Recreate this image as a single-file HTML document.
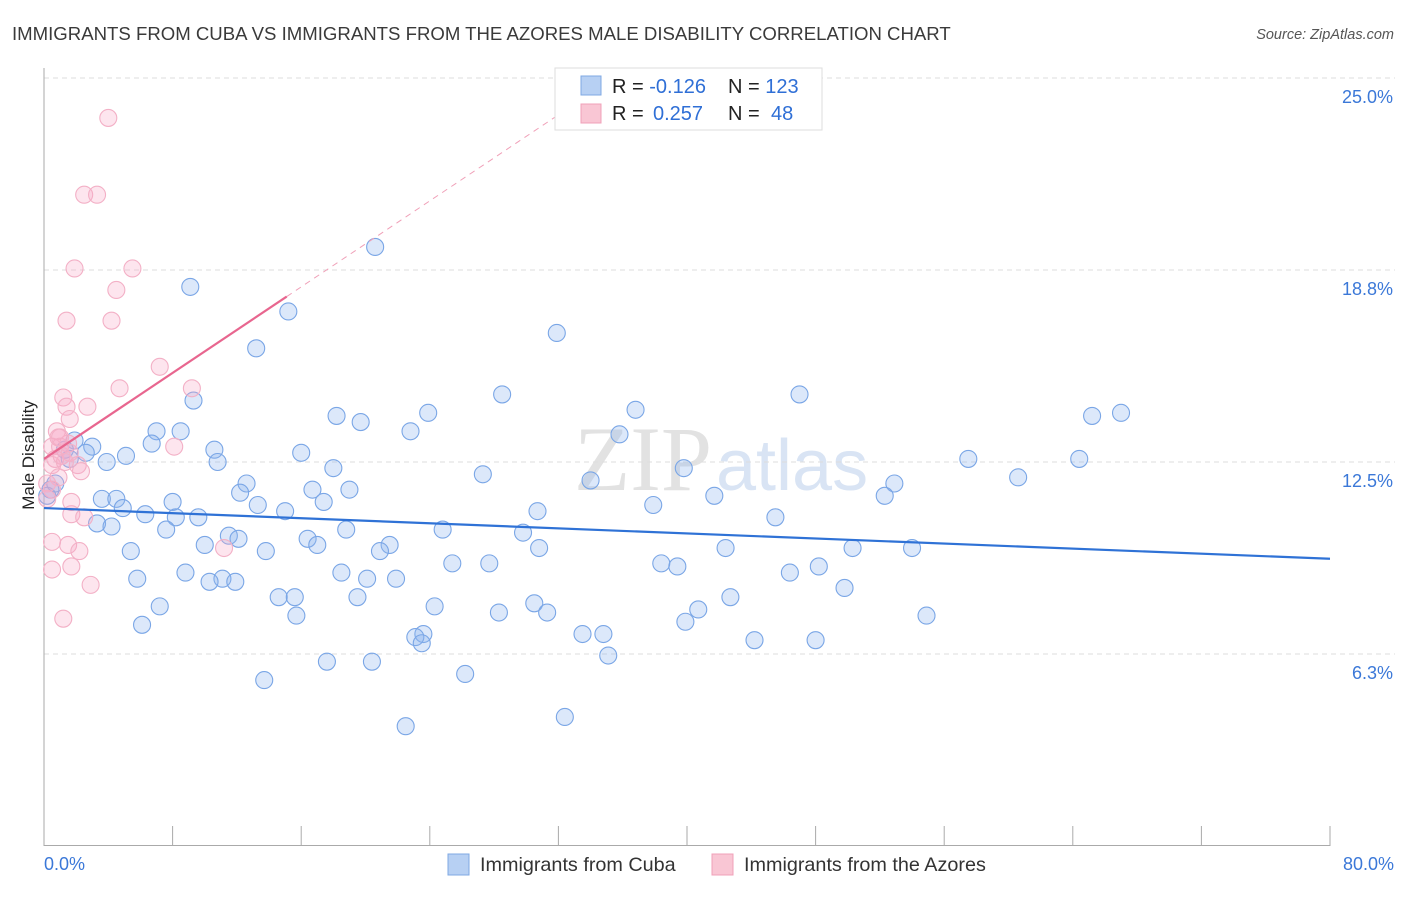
<!DOCTYPE html>
<html><head><meta charset="utf-8"><style>
body{margin:0;background:#fff;font-family:"Liberation Sans",sans-serif}
</style></head><body>
<svg width="1406" height="892" xmlns="http://www.w3.org/2000/svg" font-family="Liberation Sans, sans-serif">
<text x="12" y="40" font-size="18.6" fill="#3a3a3a">IMMIGRANTS FROM CUBA VS IMMIGRANTS FROM THE AZORES MALE DISABILITY CORRELATION CHART</text>
<text x="1394" y="39" font-size="14.5" fill="#555" font-style="italic" text-anchor="end">Source: ZipAtlas.com</text>
<text x="712" y="490" font-size="92" fill="#e2e2e2" text-anchor="end" font-family="Liberation Serif, serif">ZIP</text>
<text x="716" y="490" font-size="72" fill="#d9e4f4">atlas</text>
<g id="grid"></g><g id="axes"></g><g id="marks"></g>
<text x="34" y="455" font-size="17" fill="#222" text-anchor="middle" transform="rotate(-90 34 455)">Male Disability</text>
<g>
<rect x="555" y="68" width="267" height="62" fill="#fff" stroke="#ddd"/>
<rect x="581" y="76" width="20" height="19" fill="#b7d0f3" stroke="#7fa8e3"/>
<rect x="581" y="104" width="20" height="19" fill="#f9c6d4" stroke="#f0a0b8"/>
<text x="612" y="93" font-size="20" fill="#222">R = <tspan fill="#2f6fd6">-0.126</tspan></text>
<text x="728" y="93" font-size="20" fill="#222">N = <tspan fill="#2f6fd6">123</tspan></text>
<text x="612" y="120" font-size="20" fill="#222">R = <tspan fill="#2f6fd6" x="653">0.257</tspan></text>
<text x="728" y="120" font-size="20" fill="#222">N = <tspan fill="#2f6fd6" x="771">48</tspan></text>
</g>
<g>
<rect x="448" y="854" width="21" height="21" fill="#b7d0f3" stroke="#7fa8e3"/>
<text x="480" y="871" font-size="19.8" fill="#333">Immigrants from Cuba</text>
<rect x="712" y="854" width="21" height="21" fill="#f9c6d4" stroke="#f0a0b8"/>
<text x="744" y="871" font-size="19.8" fill="#333">Immigrants from the Azores</text>
</g>
</svg>
<script>
const yTicks=[25.0,18.8,12.5,6.3];
const yTickVals=[25,18.75,12.5,6.25];
const xTickLabels=["0.0%","80.0%"];
const cubaX=[20.6,9.1,15.2,31.9,13.2,28.5,47.0,9.3,23.9,18.2,19.7,36.8,65.2,67.0,7.0,8.5,22.8,35.8,6.7,10.6,16.0,3.0,1.9,2.6,5.1,3.9,10.8,18.0,27.3,39.8,57.5,64.4,60.6,34.0,12.6,12.2,16.7,19.0,52.9,52.3,41.7,3.6,4.5,8.0,17.4,13.3,4.9,6.3,15.0,37.9,30.7,45.5,8.2,9.6,3.3,4.2,7.6,18.8,24.8,29.8,11.5,12.1,16.4,10.0,17.0,21.5,20.9,30.8,42.4,50.3,54.0,5.4,13.8,25.4,27.7,38.4,39.4,48.2,8.8,18.5,20.1,21.9,46.4,5.8,11.1,10.3,11.9,49.8,14.6,15.6,19.5,42.7,7.2,24.3,30.5,28.3,31.3,40.7,15.7,39.9,54.9,6.1,23.6,33.5,34.8,23.1,23.5,44.2,48.0,35.1,17.6,20.4,26.2,13.7,32.4,22.5,0.4,0.2,0.7,1.3,1.6];
const cubaY=[19.5,18.2,17.4,16.7,16.2,14.7,14.7,14.5,14.1,14.0,13.8,14.2,14.0,14.1,13.5,13.5,13.5,13.4,13.1,12.9,12.8,13.0,13.2,12.8,12.7,12.5,12.5,12.3,12.1,12.3,12.6,12.6,12.0,11.9,11.8,11.5,11.6,11.6,11.8,11.4,11.4,11.3,11.3,11.2,11.2,11.1,11.0,10.8,10.9,11.1,10.9,10.7,10.7,10.7,10.5,10.4,10.3,10.3,10.3,10.2,10.1,10.0,10.0,9.8,9.8,9.8,9.6,9.7,9.7,9.7,9.7,9.6,9.6,9.2,9.2,9.2,9.1,9.1,8.9,8.9,8.7,8.7,8.9,8.7,8.7,8.6,8.6,8.4,8.1,8.1,8.1,8.1,7.8,7.8,7.9,7.6,7.6,7.7,7.5,7.3,7.5,7.2,6.9,6.9,6.9,6.8,6.6,6.7,6.7,6.2,6.0,6.0,5.6,5.4,4.2,3.9,11.6,11.4,11.8,12.9,12.6];
const azX=[4.0,2.5,3.3,1.9,5.5,4.5,1.4,4.2,7.2,4.7,9.2,1.2,1.4,2.7,1.6,0.8,0.9,8.1,0.5,1.0,1.5,0.7,1.1,1.6,2.1,2.3,0.5,0.9,0.2,0.5,0.2,1.7,1.7,2.5,0.5,1.5,2.2,11.2,0.5,1.7,2.9,1.2,1.0,1.3];
const azY=[23.7,21.2,21.2,18.8,18.8,18.1,17.1,17.1,15.6,14.9,14.9,14.6,14.3,14.3,13.9,13.5,13.3,13.0,13.0,13.0,13.1,12.6,12.7,12.8,12.4,12.2,12.4,12.0,11.8,11.6,11.3,11.2,10.8,10.7,9.9,9.8,9.6,9.7,9.0,9.1,8.5,7.4,13.3,12.5];
const cubaTrend=[11.0,9.35];   // y at x=0 and x=80
const azTrend=[12.6,0.35];     // intercept, slope per %
const X0=44,X1=1330,Y0=846,PPY=30.72;
const sx=v=>X0+(v/80)*(X1-X0), sy=v=>Y0-v*PPY;
const NS="http://www.w3.org/2000/svg";
function mk(t,a,p){const e=document.createElementNS(NS,t);for(const k in a)e.setAttribute(k,a[k]);p.appendChild(e);return e;}
const grid=document.getElementById('grid'),axes=document.getElementById('axes'),marks=document.getElementById('marks');
yTickVals.forEach((v,i)=>{
 const l=mk('line',{x1:X0,x2:1395,y1:sy(v),y2:sy(v),stroke:'#ddd','stroke-dasharray':'5,4'},grid);
 
 
 const t=mk('text',{x:1393,y:sy(v)+25,'font-size':18,fill:'#3b78d8','text-anchor':'end'},axes);
 t.textContent=yTicks[i].toFixed(1)+'%';
 
 
});
const ax=mk('line',{x1:X0,x2:X0,y1:68,y2:846,stroke:'#aaa'},axes);


const bx=mk('line',{x1:X0,x2:X1,y1:845.5,y2:845.5,stroke:'#aaa'},axes);


for(let v=0;v<=80;v+=8){
 const t=mk('line',{x1:sx(v),x2:sx(v),y1:826,y2:846,stroke:'#aaa'},axes);
 
 
}
[[0,'start',44],[80,'end',1394]].forEach((d,i)=>{
 const t=mk('text',{x:d[2],y:870,'font-size':18,fill:'#3b78d8','text-anchor':d[1]},axes);
 t.textContent=xTickLabels[i];
 
 
});
cubaX.forEach((x,i)=>{
 const c=mk('circle',{cx:sx(x),cy:sy(cubaY[i]),r:8.5,fill:'rgba(140,180,240,0.3)',stroke:'#7aa6e6','stroke-width':1.1},marks);
 
 
});
azX.forEach((x,i)=>{
 const c=mk('circle',{cx:sx(x),cy:sy(azY[i]),r:8.5,fill:'rgba(248,170,198,0.3)',stroke:'#f3b0c6','stroke-width':1.1},marks);
 
 
});
const bt=mk('line',{x1:sx(0),y1:sy(cubaTrend[0]),x2:sx(80),y2:sy(cubaTrend[1]),stroke:'#2f72d6','stroke-width':2.2},marks);


const af=x=>azTrend[0]+azTrend[1]*x;
const pt=mk('line',{x1:sx(0),y1:sy(af(0)),x2:sx(15.1),y2:sy(af(15.1)),stroke:'#e8668f','stroke-width':2.2},marks);


const pd=mk('line',{x1:sx(15.1),y1:sy(af(15.1)),x2:sx(32),y2:sy(af(32)),stroke:'#f0a0b8','stroke-width':1,'stroke-dasharray':'6,5'},marks);


</script>
</body></html>
